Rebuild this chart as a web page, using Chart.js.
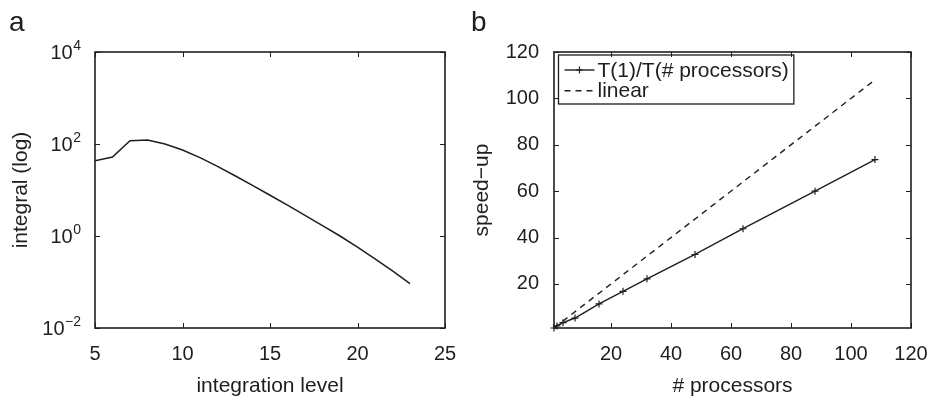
<!DOCTYPE html>
<html>
<head>
<meta charset="utf-8">
<title>integral / speed-up</title>
<script src="https://cdn.jsdelivr.net/npm/chart.js@4/dist/chart.umd.min.js"></script>
<style>
  body { margin: 0; background: #fff; }
  #wrap { position: relative; width: 927px; height: 400px; }
  #wrap canvas { position: absolute; top: 0; }
  #chartA { left: 0; }
  #chartB { left: 463px; }
</style>
</head>
<body>
<div id="wrap">
  <canvas id="chartA" width="463" height="400"></canvas>
  <canvas id="chartB" width="464" height="400"></canvas>
</div>
<script>
// panel a: integral value per integration level
const levels = [5, 6, 7, 8, 9, 10, 11, 12, 13, 14, 15, 16, 17, 18, 19, 20, 21, 22, 23];
const integral = [43.4, 52, 118, 122, 100, 74, 50.5, 32.7, 20.4, 12.6, 7.7, 4.68, 2.82, 1.68, 1.0, 0.57, 0.32, 0.174, 0.092];
const levelTicks = [5, 10, 15, 20, 25];
const integralTicks = [1e-2, 1e0, 1e2, 1e4];

// panel b: measured speed-up against ideal linear scaling
const processors = [1, 2, 4, 8, 16, 24, 32, 48, 64, 88, 108];
const speedup = [1, 1.9, 3.3, 5.3, 11.4, 16.8, 22.2, 32.7, 43.8, 60, 73.6];
const linearX = [1, 108];
const linearY = [1, 108];
const speedTicks = [20, 40, 60, 80, 100, 120];

const INK = '#1e1e1e';
const FONT = '"Liberation Sans", Arial, Helvetica, sans-serif';

function pts(xs, ys) {
  return xs.map((x, i) => ({ x: x, y: ys[i] }));
}

function setTicks(values) {
  return (scale) => { scale.ticks = values.map((v) => ({ value: v })); };
}

// box, inward ticks on all sides, panel letter, optional 10^n labels and legend
const matlabAxes = {
  id: 'matlabAxes',
  afterDatasetsDraw(chart, args, opts) {
    if (!opts.legend) return;
    const { ctx, chartArea: a } = chart;
    const sets = chart.data.datasets;
    ctx.save();
    ctx.font = '21px ' + FONT;
    const textW = Math.max(...sets.map((d) => ctx.measureText(d.label).width));
    const lx = a.left + 4.5;
    const ly = a.top + 3;
    const w = 39 + textW + 5;
    const h = 49;
    ctx.fillStyle = '#fff';
    ctx.fillRect(lx, ly, w, h);
    ctx.strokeStyle = INK;
    ctx.lineWidth = 1.3;
    ctx.strokeRect(lx, ly, w, h);
    sets.forEach((d, i) => {
      const cy = ly + 15 + i * 20.7;
      ctx.strokeStyle = d.borderColor;
      ctx.lineWidth = d.borderWidth;
      ctx.setLineDash(d.borderDash || []);
      ctx.beginPath();
      ctx.moveTo(lx + 6, cy);
      ctx.lineTo(lx + 36, cy);
      ctx.stroke();
      ctx.setLineDash([]);
      if (d.pointRadius) {
        const r = d.pointRadius;
        ctx.lineWidth = d.pointBorderWidth;
        ctx.beginPath();
        ctx.moveTo(lx + 21 - r, cy); ctx.lineTo(lx + 21 + r, cy);
        ctx.moveTo(lx + 21, cy - r); ctx.lineTo(lx + 21, cy + r);
        ctx.stroke();
      }
      ctx.fillStyle = INK;
      ctx.textAlign = 'left';
      ctx.textBaseline = 'middle';
      ctx.fillText(d.label, lx + 39, cy + 1);
    });
    ctx.restore();
  },
  afterDraw(chart, args, opts) {
    const { ctx, chartArea: a } = chart;
    const xs = chart.scales.x;
    const ys = chart.scales.y;
    const len = 5;
    ctx.save();
    ctx.strokeStyle = INK;
    ctx.lineWidth = 1;
    ctx.beginPath();
    xs.ticks.forEach((t) => {
      const px = Math.round(xs.getPixelForValue(t.value)) + 0.5;
      ctx.moveTo(px, a.bottom); ctx.lineTo(px, a.bottom - len);
      ctx.moveTo(px, a.top); ctx.lineTo(px, a.top + len);
    });
    ys.ticks.forEach((t) => {
      const py = Math.round(ys.getPixelForValue(t.value)) + 0.5;
      ctx.moveTo(a.left, py); ctx.lineTo(a.left + len, py);
      ctx.moveTo(a.right, py); ctx.lineTo(a.right - len, py);
    });
    ctx.stroke();
    ctx.lineWidth = 1.6;
    ctx.strokeRect(a.left, a.top, a.right - a.left, a.bottom - a.top);

    ctx.fillStyle = INK;
    if (opts.powerLabels) {
      ys.ticks.forEach((t) => {
        const py = ys.getPixelForValue(t.value);
        const exp = Math.round(Math.log10(t.value));
        const expText = exp < 0 ? '\u2212' + Math.abs(exp) : String(exp);
        const right = a.left - 14;
        ctx.textAlign = 'right';
        ctx.font = '14px ' + FONT;
        ctx.textBaseline = 'alphabetic';
        ctx.fillText(expText, right, py - 2.5);
        const ew = ctx.measureText(expText).width;
        ctx.font = '20px ' + FONT;
        ctx.textBaseline = 'middle';
        ctx.fillText('10', right - ew - 0.5, py + 1);
      });
    }

    ctx.font = '28px ' + FONT;
    ctx.textAlign = 'left';
    ctx.textBaseline = 'alphabetic';
    ctx.fillText(opts.letter, opts.letterX, 31);
    ctx.restore();
  }
};

const tickFont = { family: FONT, size: 20 };
const titleFont = { family: FONT, size: 21 };
const noGrid = { display: false, drawTicks: false };

function xAxis(min, max, ticks, title) {
  return {
    type: 'linear', min: min, max: max,
    grid: noGrid, border: { display: false },
    afterBuildTicks: setTicks(ticks),
    afterFit: (s) => { s.height = 72; s.paddingLeft = 0; s.paddingRight = 0; },
    ticks: { color: INK, font: tickFont, padding: 14, maxRotation: 0, autoSkip: false },
    title: { display: true, text: title, color: INK, font: titleFont, padding: { top: 0, bottom: 1 } }
  };
}

new Chart(document.getElementById('chartA'), {
  type: 'line',
  data: {
    datasets: [{
      label: 'integral',
      data: pts(levels, integral),
      borderColor: INK,
      borderWidth: 1.5,
      pointRadius: 0,
      tension: 0
    }]
  },
  options: {
    responsive: false,
    animation: false,
    layout: { padding: { top: 52, right: 18, bottom: 0, left: 0 } },
    plugins: {
      legend: { display: false },
      tooltip: { enabled: false },
      matlabAxes: { letter: 'a', letterX: 9, powerLabels: true }
    },
    scales: {
      x: xAxis(5, 25, levelTicks, 'integration level'),
      y: {
        type: 'logarithmic', min: 1e-2, max: 1e4,
        grid: noGrid, border: { display: false },
        afterBuildTicks: setTicks(integralTicks),
        afterFit: (s) => { s.width = 95; },
        ticks: { display: false },
        title: { display: true, text: 'integral (log)', color: INK, font: titleFont, padding: { top: 9, bottom: 0 } }
      }
    }
  },
  plugins: [matlabAxes]
});

new Chart(document.getElementById('chartB'), {
  type: 'line',
  data: {
    datasets: [{
      label: 'T(1)/T(# processors)',
      data: pts(processors, speedup),
      borderColor: INK,
      borderWidth: 1.4,
      pointStyle: 'cross',
      pointRadius: 3.5,
      pointBorderColor: INK,
      pointBorderWidth: 1.2,
      tension: 0,
      clip: false
    }, {
      label: 'linear',
      data: pts(linearX, linearY),
      borderColor: INK,
      borderWidth: 1.4,
      borderDash: [6, 5],
      pointRadius: 0,
      tension: 0
    }]
  },
  options: {
    responsive: false,
    animation: false,
    layout: { padding: { top: 52, right: 16, bottom: 0, left: 0 } },
    plugins: {
      legend: { display: false },
      tooltip: { enabled: false },
      matlabAxes: { letter: 'b', letterX: 8, legend: true }
    },
    scales: {
      x: xAxis(1, 120, speedTicks, '# processors'),
      y: {
        type: 'linear', min: 1, max: 120,
        grid: noGrid, border: { display: false },
        afterBuildTicks: setTicks(speedTicks),
        afterFit: (s) => { s.width = 91; },
        ticks: { color: INK, font: tickFont, padding: 15 },
        title: { display: true, text: 'speed\u2212up', color: INK, font: titleFont, padding: { top: 7, bottom: 0 } }
      }
    }
  },
  plugins: [matlabAxes]
});
</script>
</body>
</html>
